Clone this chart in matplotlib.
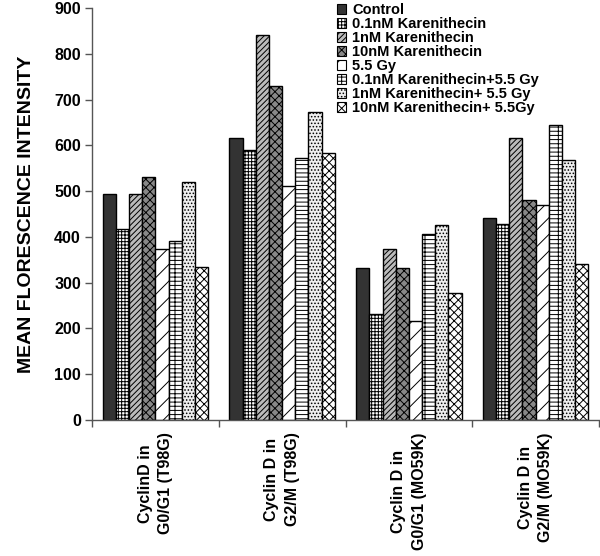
import matplotlib
matplotlib.use("Agg")
import matplotlib.pyplot as plt
import numpy as np
from matplotlib.patches import Patch

plt.rcParams['font.family'] = ['Liberation Sans', 'DejaVu Sans']
plt.rcParams['font.weight'] = 'bold'
plt.rcParams['hatch.linewidth'] = 0.7

categories = ["CyclinD in\nG0/G1 (T98G)", "Cyclin D in\nG2/M (T98G)",
              "Cyclin D in\nG0/G1 (MO59K)", "Cyclin D in\nG2/M (MO59K)"]
series_names = ["Control", "0.1nM Karenithecin", "1nM Karenithecin",
                "10nM Karenithecin", "5.5 Gy", "0.1nM Karenithecin+5.5 Gy",
                "1nM Karenithecin+ 5.5 Gy", "10nM Karenithecin+ 5.5Gy"]
control = [493, 615, 332, 441]
k01 = [418, 590, 231, 429]
k1 = [493, 842, 374, 615]
k10 = [531, 730, 332, 481]
gy55 = [373, 511, 217, 470]
k01_gy = [390, 573, 406, 644]
k1_gy = [519, 672, 426, 569]
k10_gy = [335, 583, 277, 340]
series = [control, k01, k1, k10, gy55, k01_gy, k1_gy, k10_gy]

styles = [
    dict(facecolor='#333333', hatch=None),
    dict(facecolor='white', hatch='+++++'),
    dict(facecolor='#bbbbbb', hatch='//////'),
    dict(facecolor='#888888', hatch='xxxx'),
    dict(facecolor='white', hatch='//'),
    dict(facecolor='white', hatch='----|'),
    dict(facecolor='#eeeeee', hatch='.....'),
    dict(facecolor='white', hatch='xxxx'),
]

fig = plt.figure(figsize=(6.0, 5.56), dpi=100)
ax = fig.add_axes([92/600, (556-420)/556, 507/600, 412/556])

n = len(series)
width = 0.104
x = np.arange(len(categories)) + 0.5
for i, (vals, st) in enumerate(zip(series, styles)):
    offs = (i - (n - 1) / 2) * width
    ax.bar(x + offs, vals, width, facecolor=st['facecolor'], hatch=st['hatch'],
           edgecolor='black', linewidth=1.0, label=series_names[i])

ax.set_xlim(0, 4)
ax.set_ylim(0, 900)
ax.set_yticks(np.arange(0, 901, 100))
ax.tick_params(axis='y', labelsize=11.5, length=5, color='#555555', width=1, pad=3)
ax.set_xticks(x)
ax.set_xticklabels(categories, rotation=90, fontsize=11.5, fontweight='bold',
                   linespacing=1.45, multialignment='center')
ax.tick_params(axis='x', length=0, pad=9)
ax.set_xticks(np.arange(0, 5), minor=True)
ax.tick_params(axis='x', which='minor', length=5, color='#555555', width=1)
for s in ['top', 'right']:
    ax.spines[s].set_visible(False)
for s in ['left', 'bottom']:
    ax.spines[s].set_color('#555555')
    ax.spines[s].set_linewidth(1)

ax.set_ylabel("MEAN FLORESCENCE INTENSITY", fontsize=14, fontweight='bold', labelpad=14)

handles = [Patch(facecolor=st['facecolor'], hatch=st['hatch'], edgecolor='black',
                 linewidth=0.8) for st in styles]
leg = fig.legend(handles, series_names, loc='upper left',
                 bbox_to_anchor=(334/600, 1.0), frameon=False, fontsize=10.5,
                 handlelength=0.65, handleheight=0.65, handletextpad=0.4,
                 labelspacing=0.0, borderpad=0.2, borderaxespad=0)
for t in leg.get_texts():
    t.set_fontweight('bold')

fig.savefig("out.png", dpi=100)
